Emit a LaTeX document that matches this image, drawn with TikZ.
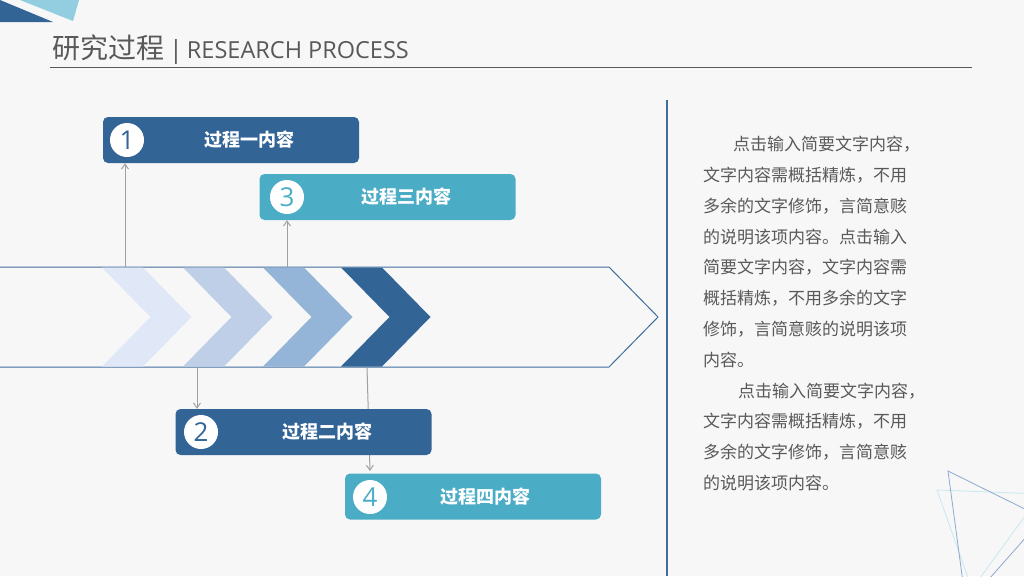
\documentclass[tikz,border=0pt]{standalone}
\usepackage{fontspec}
\setmainfont{Noto Sans CJK SC}
\newfontfamily\latinfont{Open Sans}
\usetikzlibrary{arrows.meta}

\definecolor{ppbg}{RGB}{247,247,247}
\definecolor{ppdark}{RGB}{50,100,150}
\definecolor{ppteal}{RGB}{75,172,198}
\definecolor{ppchevA}{RGB}{224,231,247}
\definecolor{ppchevB}{RGB}{191,207,231}
\definecolor{ppchevC}{RGB}{149,181,216}
\definecolor{ppline}{RGB}{63,110,158}
\definecolor{ppgrey}{RGB}{89,89,89}
\definecolor{ppconn}{RGB}{160,160,160}
\definecolor{ppsky}{RGB}{146,205,224}
\definecolor{pptri}{RGB}{140,170,210}
\definecolor{pptricyan}{RGB}{200,232,240}

\begin{document}
\begin{tikzpicture}[x=1pt, y=-1pt,
  box/.style={minimum width=256pt, minimum height=46pt, rounded corners=5pt, inner sep=0pt},
  num/.style={circle, fill=white, minimum size=34pt, inner sep=0pt, font=\latinfont\fontsize{26}{26}\selectfont},
  boxtext/.style={text=white, font=\fontsize{18}{18}\selectfont\bfseries, inner sep=0pt},
  conn/.style={draw=ppconn, line width=1pt, -{Straight Barb[length=5pt,width=7pt]}}]

  % Background
  \useasboundingbox (0,0) rectangle (1024,576);
  \fill[ppbg] (0,0) rectangle (1024,576);

  % Corner
  \fill[ppdark] (0,0) -- (0,22) -- (53,22) -- cycle;
  \fill[ppsky] (20,0) -- (79,0) -- (73,21) -- cycle;
  \draw[pptricyan, line width=0.8pt] (937,490) -- (1041,494) -- (972,589) -- cycle;
  \draw[pptri, line width=0.8pt] (948,471) -- (1043,518) -- (966,605) -- cycle;

  % Title
  \draw (52,50) node[anchor=west, text=ppgrey, inner sep=0pt] (title) {\fontsize{28}{28}\selectfont 研究过程\hspace{5pt}{\latinfont\fontsize{25}{25}\selectfont |}\hspace{4pt}{\latinfont\fontsize{23.5}{23.5}\selectfont RESEARCH PROCESS}};
  \draw[ppgrey, line width=0.8pt] (50,67) -- (972,67);

  % Divider
  \draw[ppline, line width=1.2pt] (667,100) -- (667,576);

  % Band
  \draw[ppline, line width=1pt] (-5,267) -- (609,267) -- (658,317) -- (609,367) -- (-5,367);
  \foreach \x/\c in {102/ppchevA, 183/ppchevB, 263/ppchevC, 341/ppdark}
    \fill[\c] (\x,267.5) -- ++(41,0) -- ++(48.5,49.5) -- ++(-48.5,49.5) -- ++(-41,0) -- ++(48.5,-49.5) -- cycle;

  % Connectors
  \coordinate (s1) at (125,267);
  \coordinate (s3) at (287,267);
  \coordinate (s2) at (197,367);
  \coordinate (s4) at (367,367);
  \coordinate (e4) at (370,471);

  % Boxes
  \node[box, fill=ppdark] (box1) at (231,140) {};
  \node[num, text=ppdark] (n1) at (127,140) {1};
  \node[boxtext] (t1) at (249,140) {过程一内容};

  \node[box, fill=ppteal] (box3) at (387.5,197) {};
  \node[num, text=ppteal] (n3) at (287,197) {3};
  \node[boxtext] (t3) at (406,197) {过程三内容};

  \draw[conn] (s4) -- (e4);

  \node[box, fill=ppdark] (box2) at (303.5,432) {};
  \node[num, text=ppdark] (n2) at (201,432) {2};
  \node[boxtext] (t2) at (327,432) {过程二内容};

  \node[box, fill=ppteal] (box4) at (473,496.5) {};
  \node[num, text=ppteal] (n4) at (370,497) {4};
  \node[boxtext] (t4) at (485,497) {过程四内容};

  \draw[conn] (s1) -- (s1 |- box1.south);
  \draw[conn] (s3) -- (s3 |- box3.south);
  \draw[conn] (s2) -- (s2 |- box2.north);

  % Text
  \draw (703,136) node[anchor=north west, align=left, text=ppgrey, inner sep=0pt, font=\fontsize{17}{30.8}\selectfont] (para) {%
    \hspace*{30pt}点击输入简要文字内容，\\
    文字内容需概括精炼，不用\\
    多余的文字修饰，言简意赅\\
    的说明该项内容。点击输入\\
    简要文字内容，文字内容需\\
    概括精炼，不用多余的文字\\
    修饰，言简意赅的说明该项\\
    内容。\\
    \hspace*{35pt}点击输入简要文字内容，\\
    文字内容需概括精炼，不用\\
    多余的文字修饰，言简意赅\\
    的说明该项内容。};

\end{tikzpicture}
\end{document}
